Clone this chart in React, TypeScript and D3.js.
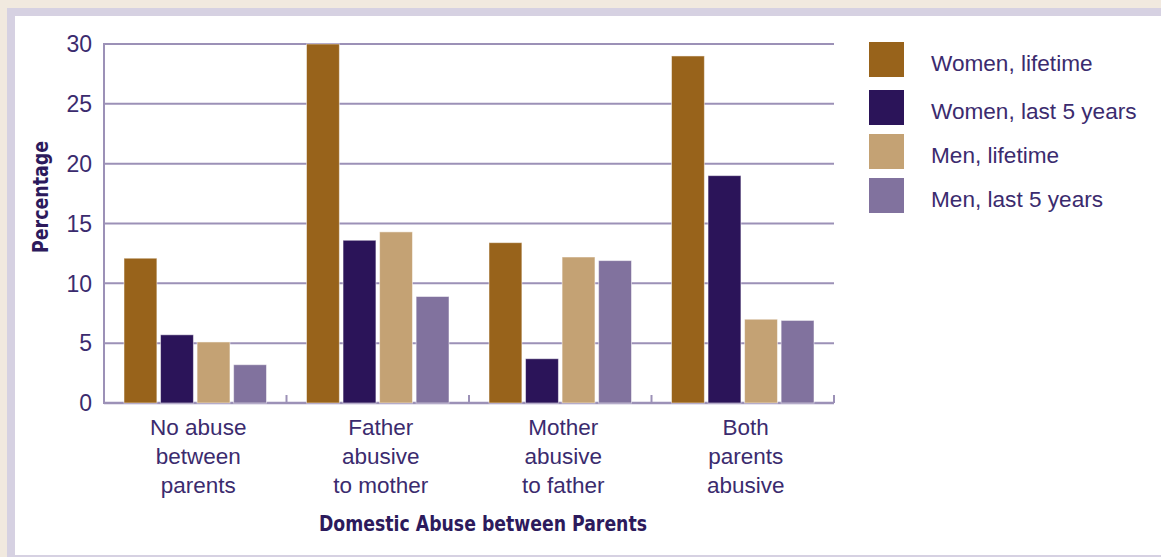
import React from "react";
import * as d3 from "d3";

const categories = [
  ["No abuse", "between", "parents"],
  ["Father", "abusive", "to mother"],
  ["Mother", "abusive", "to father"],
  ["Both", "parents", "abusive"],
];
const seriesNames = ["Women, lifetime", "Women, last 5 years", "Men, lifetime", "Men, last 5 years"];
const womenLifetime = [12.1, 30, 13.4, 29.0];
const womenLast5 = [5.7, 13.6, 3.7, 19.0];
const menLifetime = [5.1, 14.3, 12.2, 7.0];
const menLast5 = [3.2, 8.9, 11.9, 6.9];
const yTicks = [0, 5, 10, 15, 20, 25, 30];
const colors = ["#98631b", "#2b1459", "#c4a274", "#81729e"];

const W = 1161;
const H = 557;
const TEXT = "#3b2b6e";
const GRID = "#9c91b7";
const FONT = "'Liberation Sans', Arial, sans-serif";

export default function App() {
  const series = [womenLifetime, womenLast5, menLifetime, menLast5];
  const x0 = d3.scaleBand<number>().domain(d3.range(categories.length)).range([104, 834]).padding(0);
  const x1 = d3
    .scaleBand<number>()
    .domain(d3.range(series.length))
    .range([20, x0.bandwidth() - 20])
    .paddingInner(0.1);
  const y = d3.scaleLinear().domain([0, 30]).range([403, 44]);

  return (
    <svg width={W} height={H} style={{ position: "absolute", left: 0, top: 0 }}>
      <rect x={0} y={0} width={W} height={H} fill="#f1e9df" />
      <rect x={7} y={8} width={W} height={H} fill="#d6d1e2" />
      <rect x={15} y={16} width={W} height={539} fill="#ffffff" />

      {/* gridlines */}
      {yTicks.map((t) => (
        <line key={t} x1={104} x2={834} y1={y(t)} y2={y(t)} stroke={GRID} strokeWidth={t === 0 ? 2.5 : 2} />
      ))}
      <line x1={104} x2={104} y1={y(30) - 1} y2={y(0) + 1} stroke={GRID} strokeWidth={2} />
      {d3.range(1, categories.length + 1).map((i) => (
        <line key={i} x1={x0(0)! + i * x0.bandwidth()} x2={x0(0)! + i * x0.bandwidth()} y1={y(0)} y2={y(0) - 8} stroke={GRID} strokeWidth={2} />
      ))}

      {/* bars */}
      {categories.map((_, ci) =>
        series.map((s, si) => (
          <rect
            key={`${ci}-${si}`}
            x={x0(ci)! + x1(si)!}
            y={y(s[ci])}
            width={x1.bandwidth()}
            height={y(0) - y(s[ci])}
            fill={colors[si]}
            stroke="#ffffff"
            strokeOpacity={0.5}
            strokeWidth={1}
          />
        ))
      )}

      {/* y tick labels */}
      {yTicks.map((t) => (
        <text key={t} x={92} y={y(t)} dy="0.36em" textAnchor="end" fontFamily={FONT} fontSize={23} fill={TEXT}>
          {t}
        </text>
      ))}

      {/* category labels */}
      {categories.map((lines, ci) => (
        <text key={ci} textAnchor="middle" fontFamily={FONT} fontSize={22.5} fill={TEXT}>
          {lines.map((l, li) => (
            <tspan key={li} x={x0(ci)! + x0.bandwidth() / 2 + 3} y={427 + li * 29} dy="0.36em">
              {l}
            </tspan>
          ))}
        </text>
      ))}

      {/* axis titles */}
      <text
        x={483}
        y={523}
        dy="0.36em"
        textAnchor="middle"
        fontFamily="'Liberation Sans Narrow', 'DejaVu Sans Condensed', sans-serif"
        fontWeight="bold"
        fontSize={22}
        fill="#2c1a5c"
        textLength={328}
        lengthAdjust="spacingAndGlyphs"
      >
        Domestic Abuse between Parents
      </text>
      <text
        transform="translate(40,197) rotate(-90)"
        dy="0.36em"
        textAnchor="middle"
        fontFamily="'Liberation Sans Narrow', 'DejaVu Sans Condensed', sans-serif"
        fontWeight="bold"
        fontSize={22}
        fill="#2c1a5c"
        textLength={112}
        lengthAdjust="spacingAndGlyphs"
      >
        Percentage
      </text>

      {/* legend */}
      {seriesNames.map((n, i) => {
        const ys = [42, 90, 134, 178][i];
        return (
          <g key={n}>
            <rect x={869} y={ys} width={35} height={35} fill={colors[i]} />
            <text x={931} y={ys + 21} dy="0.36em" fontFamily={FONT} fontSize={22.6} fill={TEXT}>
              {n}
            </text>
          </g>
        );
      })}
    </svg>
  );
}
